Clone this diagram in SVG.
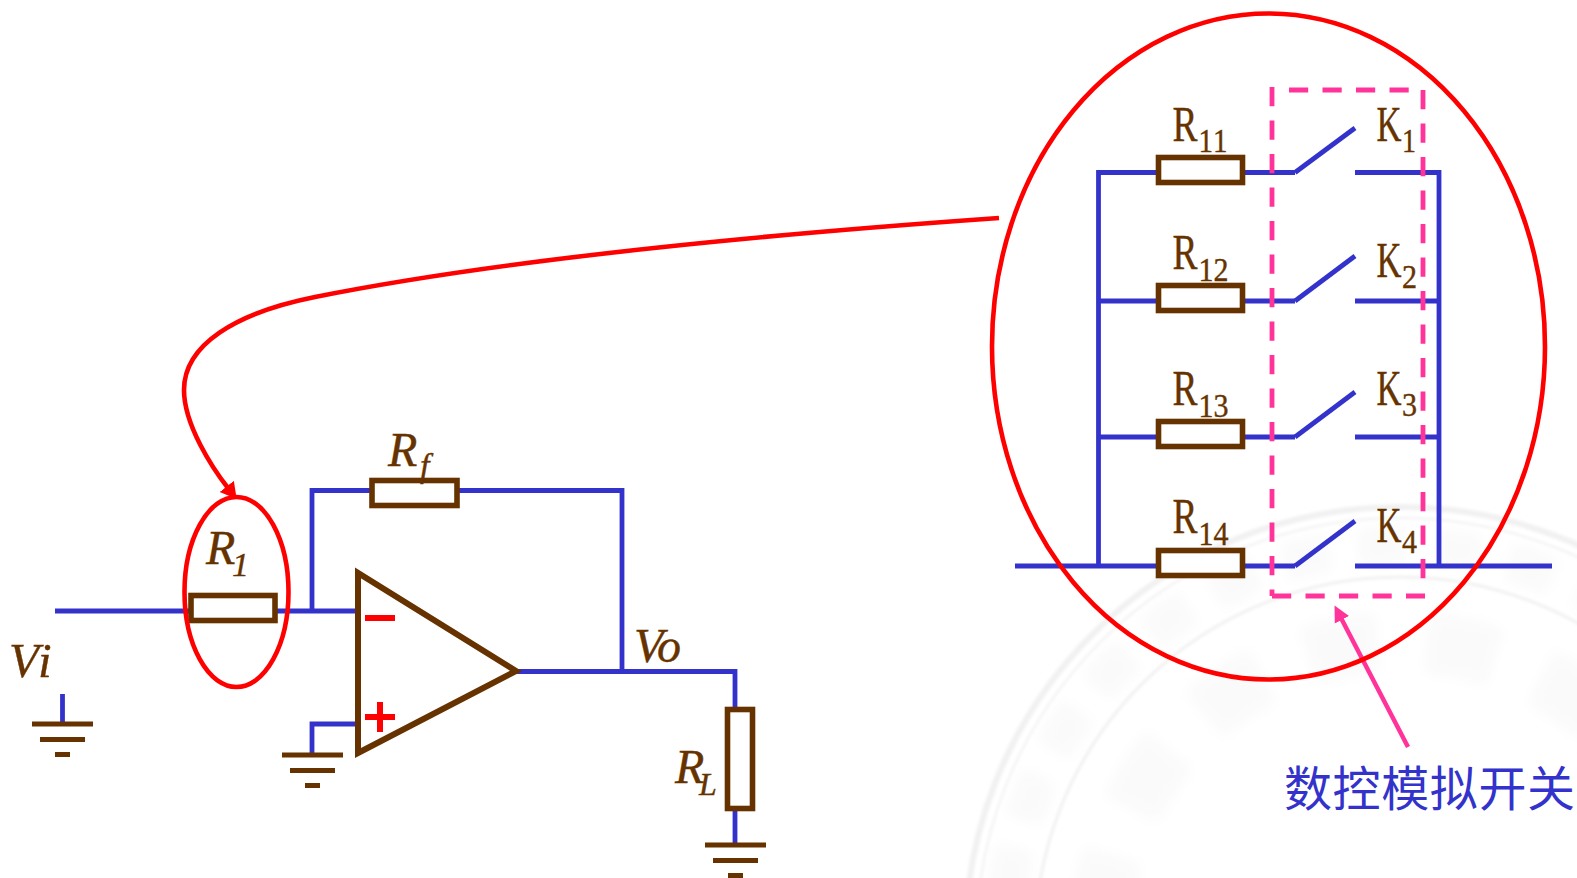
<svg xmlns="http://www.w3.org/2000/svg" width="1577" height="878" viewBox="0 0 1577 878">
<style>
.w{fill:none;stroke:#3333cc;stroke-width:4.8}
.b{fill:none;stroke:#663300;stroke-width:6}
.r{fill:#fff;stroke:#663300;stroke-width:5.6}
.g{fill:none;stroke:#663300;stroke-width:5}
.red{fill:none;stroke:#ff0000;stroke-width:4.6}
.d{fill:none;stroke:#ff3399;stroke-width:4.8;stroke-dasharray:19.2 14.3}
.sw{fill:none;stroke:#3333cc;stroke-width:4.8}
.t{fill:#663300;stroke:#663300;stroke-width:0.4;font-family:"Liberation Serif",serif;font-kerning:none}
.i{font-style:italic}
.m{font-size:50px}
.s{font-size:33px}
.wm{fill:none;stroke:#f1f1f1}
.wf{fill:none;stroke:#fafafa}
</style>
<defs>
<filter id="soft" x="-10%" y="-10%" width="120%" height="120%"><feGaussianBlur stdDeviation="1.500"/></filter>
<filter id="softer" x="-10%" y="-10%" width="120%" height="120%"><feGaussianBlur stdDeviation="7"/></filter>
<marker id="hr" markerUnits="userSpaceOnUse" markerWidth="18" markerHeight="20" refX="2" refY="9.500" orient="auto"><path d="M0 0.500L16 9.500L0 18.500Z" fill="#ff0000"/></marker>
<marker id="hp" markerUnits="userSpaceOnUse" markerWidth="18" markerHeight="18" refX="2" refY="8.500" orient="auto"><path d="M0 0.500L16 8.500L0 16.500Z" fill="#ff3399"/></marker>
<g id="gnd"><path class="g" d="M0 0H61M8 15.500H53M23 30.500H38"/></g>
</defs>
<g id="watermark">
<g filter="url(#soft)">
<circle class="wm" cx="1400" cy="942" r="435" stroke-width="6"/>
<circle class="wm" cx="1400" cy="942" r="424" stroke-width="2"/>
<circle class="wm" cx="1400" cy="942" r="365" stroke-width="3"/>
</g>
<g filter="url(#softer)">
<circle class="wf" cx="1400" cy="942" r="396" stroke-width="38" stroke-dasharray="46 30"/>
<circle class="wf" cx="1400" cy="942" r="300" stroke-width="60" stroke-dasharray="70 50"/>
</g>
</g>
<g id="connectors">
<path class="w" d="M55 611H190M275 611H356M312 611V490.500H371M457 490.500H622V671.500M516 671.500H735V708M735 810V845"/>
<path class="w" d="M312 754V724H356M62.500 694V722"/>
<path class="w" d="M1015 566H1158M1098.500 566V172.500H1158M1243 172.500H1295M1098.500 301H1158M1243 301H1295M1098.500 437H1158M1243 437H1295M1243 566H1295"/>
<path class="w" d="M1355 172.500H1439V566M1355 301H1439M1355 437H1439M1355 566H1552"/>
<path class="red" d="M999 218C800 232 520 256 315 297C235 313 184 345 184 390C184 425 213 469 228 488" marker-end="url(#hr)"/>
<path d="M1408 747L1341 618" fill="none" stroke="#ff3399" stroke-width="4.500" marker-end="url(#hp)"/>
</g>
<g id="vi"><text class="t i" x="9 38" y="677" font-size="49">Vi</text><use href="#gnd" x="32" y="724"/></g>
<g id="r1"><rect class="r" x="191" y="595.500" width="84" height="25"/><text class="t i" x="206" y="564" font-size="48">R</text><text class="t i" x="232" y="576" font-size="34">1</text></g>
<g id="r1-highlight"><ellipse class="red" cx="236.500" cy="592" rx="52" ry="95"/></g>
<g id="rf"><rect class="r" x="372" y="480.500" width="85" height="25"/><text class="t i" x="388" y="466" font-size="48">R</text><text class="t i" x="420" y="477" font-size="34">f</text></g>
<g id="opamp"><path class="b" d="M358 573V753L516 671Z"/><path d="M365 618H395M365 717H395M380 702V732" fill="none" stroke="#ff0000" stroke-width="6"/></g>
<g id="gnd-plus"><use href="#gnd" x="282" y="755"/></g>
<g id="vo"><text class="t i" x="634 657" y="662" font-size="48">Vo</text></g>
<g id="rl"><rect class="r" x="727.500" y="709.500" width="25" height="99"/><text class="t i" x="675" y="783" font-size="48">R</text><text class="t i" x="699" y="795" font-size="32">L</text></g>
<g id="gnd-load"><use href="#gnd" x="705" y="845"/></g>
<g id="r11"><rect class="r" x="1158.500" y="157.500" width="84" height="25"/><text class="t m" x="1172.500" y="141" textLength="25" lengthAdjust="spacingAndGlyphs">R</text><text class="t s" x="1198.500" y="152" textLength="29" lengthAdjust="spacingAndGlyphs">11</text></g>
<g id="r12"><rect class="r" x="1158.500" y="285.500" width="84" height="25"/><text class="t m" x="1172.500" y="269" textLength="25" lengthAdjust="spacingAndGlyphs">R</text><text class="t s" x="1198.500" y="281" textLength="30" lengthAdjust="spacingAndGlyphs">12</text></g>
<g id="r13"><rect class="r" x="1158.500" y="421.500" width="84" height="25"/><text class="t m" x="1172.500" y="405" textLength="25" lengthAdjust="spacingAndGlyphs">R</text><text class="t s" x="1198.500" y="417" textLength="30" lengthAdjust="spacingAndGlyphs">13</text></g>
<g id="r14"><rect class="r" x="1158.500" y="550.500" width="84" height="25"/><text class="t m" x="1172.500" y="533" textLength="25" lengthAdjust="spacingAndGlyphs">R</text><text class="t s" x="1198.500" y="545" textLength="30" lengthAdjust="spacingAndGlyphs">14</text></g>
<g id="k1"><path class="sw" d="M1295 172.500L1355 128"/><text class="t m" x="1376.500" y="141" textLength="25" lengthAdjust="spacingAndGlyphs">K</text><text class="t s" x="1402" y="152" textLength="14" lengthAdjust="spacingAndGlyphs">1</text></g>
<g id="k2"><path class="sw" d="M1295 301L1355 256"/><text class="t m" x="1376.500" y="277" textLength="25" lengthAdjust="spacingAndGlyphs">K</text><text class="t s" x="1402" y="288" textLength="15" lengthAdjust="spacingAndGlyphs">2</text></g>
<g id="k3"><path class="sw" d="M1295 437L1355 392"/><text class="t m" x="1376.500" y="405" textLength="25" lengthAdjust="spacingAndGlyphs">K</text><text class="t s" x="1402" y="416" textLength="15" lengthAdjust="spacingAndGlyphs">3</text></g>
<g id="k4"><path class="sw" d="M1295 566L1355 521"/><text class="t m" x="1376.500" y="542" textLength="25" lengthAdjust="spacingAndGlyphs">K</text><text class="t s" x="1402" y="553" textLength="15" lengthAdjust="spacingAndGlyphs">4</text></g>
<g id="switch-box"><path class="d" d="M1272 87V596"/><path class="d" d="M1272 596H1425"/><path class="d" d="M1289 90H1409"/><path class="d" d="M1423 90V579"/></g>
<g id="zoom-highlight"><ellipse class="red" cx="1268.500" cy="346.500" rx="276.500" ry="333"/></g>
<g id="caption"><text x="1284" y="806" font-size="48" fill="#3333cc" font-family="'Noto Sans CJK SC',sans-serif" textLength="291">数控模拟开关</text></g>
</svg>
